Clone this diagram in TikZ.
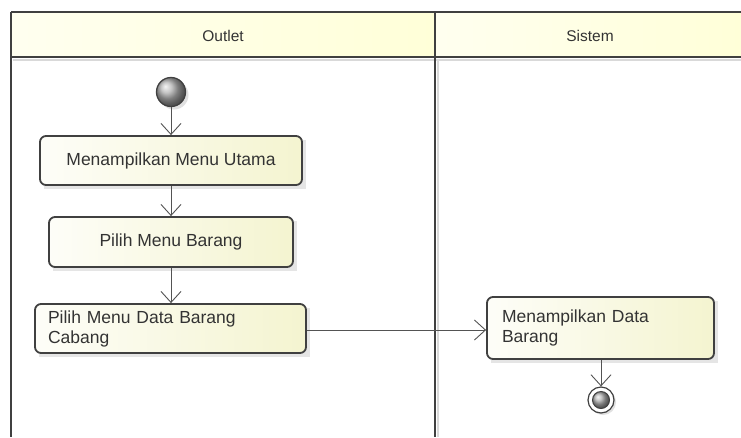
\documentclass[tikz,border=0pt]{standalone}
\usepackage{fontspec}
\setmainfont{Liberation Sans}
\usetikzlibrary{arrows.meta,calc}
\definecolor{frame}{HTML}{404040}
\definecolor{boxy}{HTML}{F4F4D0}
\definecolor{hdr}{HTML}{FFFFD8}
\tikzset{
  act/.style={draw=frame, line width=1.8pt, rounded corners=6pt,
    left color=white!85!boxy, right color=boxy, font=\fontsize{17.5}{20}\selectfont,
    text=black!80, inner sep=0pt},
  flow/.style={draw=frame!90, line width=0.9pt,
    -{Straight Barb[length=11pt,width=20pt,line width=0.9pt]}},
  lane/.style={draw=frame, line width=2.2pt},
  shade line/.style={draw=black!15, line width=2pt},
  hdrtext/.style={font=\fontsize{15.5}{18}\selectfont, text=black!80}
}
\begin{document}
\begin{tikzpicture}[x=1pt,y=-1pt]
\useasboundingbox (0,0) rectangle (741,437);
\fill[white] (0,0) rectangle (741,437);
% headers
\fill[left color=white!60!hdr, right color=hdr] (11,12) rectangle (435,57);
\fill[left color=white!60!hdr, right color=hdr] (435,12) rectangle (741,57);
\draw[shade line] (13,60) -- (741,60);
\draw[shade line] (438,60) -- (438,437);
\draw[lane] (11,12) -- (741,12);
\draw[lane] (11,57) -- (741,57);
\draw[lane] (11,12) -- (11,437);
\draw[lane] (435,12) -- (435,437);
\node[hdrtext] (h1) at (223,36) {Outlet};
\node[hdrtext] (h2) at (590,36) {Sistem};
% shadows
\fill[black!10] (44,140) rectangle (306,189);
\fill[black!10] (53,221) rectangle (297,271);
\fill[black!10] (39,308) rectangle (310,357);
\fill[black!10] (491,301) rectangle (718,363);
% start
\fill[black!12] (174,95) circle (14.5);
\node[circle, draw=frame, line width=1.3pt, minimum size=29pt, inner sep=0pt,
  ball color=black!30, shading=ball] (start) at (171,92) {};
% activities
\node[act, minimum width=262pt, minimum height=49pt] (a1) at (171,160.5) {Menampilkan Menu Utama};
\node[act, minimum width=244pt, minimum height=50pt] (a2) at (171,242) {Pilih Menu Barang};
\node[act, minimum width=271pt, minimum height=49pt, text width=245pt, align=left] (a3) at (170.5,328.5) {Pilih Menu Data Barang\\Cabang};
\node[act, minimum width=227pt, minimum height=62pt, text width=197pt, align=left] (a4) at (600.5,328) {Menampilkan Data\\Barang};
% final
\fill[black!12] (603,402) circle (13);
\node[circle, draw=frame, line width=1.2pt, fill=white, minimum size=26pt, inner sep=0pt] (end) at (601,400) {};
\shade[ball color=black!30] (end.center) circle (8.5);
\draw[frame, line width=1pt] (end.center) circle (8.5);
% flows
\draw[flow] (start.south) -- (start.south |- a1.north);
\draw[flow] (a1.south -| start) -- (a2.north -| start);
\draw[flow] (a2.south -| start) -- (a3.north -| start);
\draw[flow] ($(a3.east)+(0,1.5)$) -- ($(a3.east -| a4.west)+(0,1.5)$);
\draw[flow] (a4.south -| end) -- (end.north);
\end{tikzpicture}
\end{document}
